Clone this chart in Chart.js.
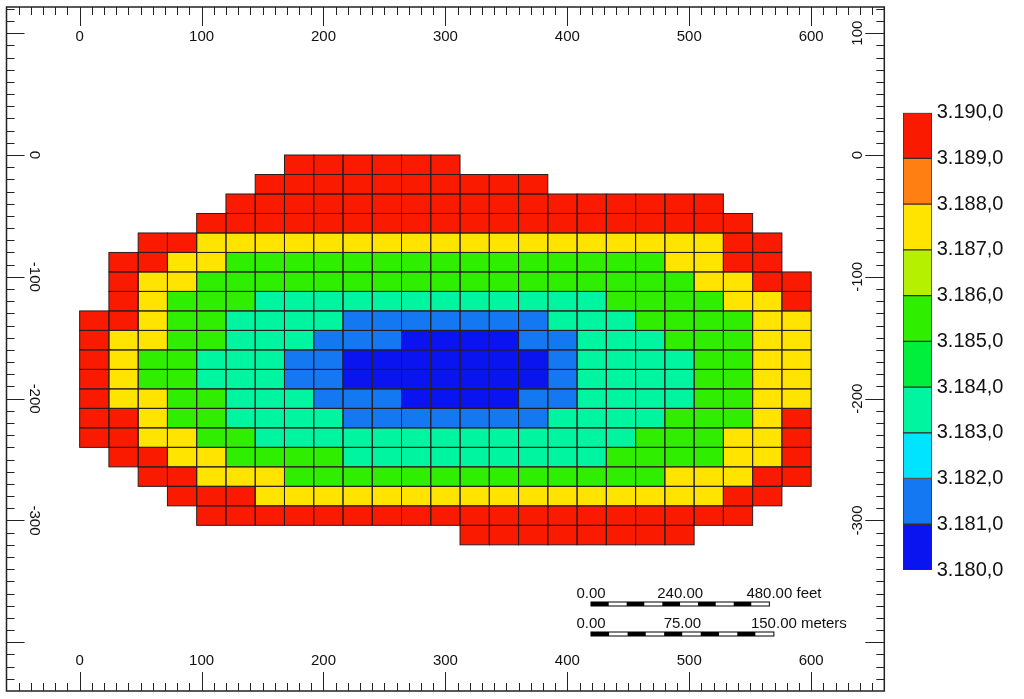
<!DOCTYPE html>
<html>
<head>
<meta charset="utf-8">
<script src="https://cdn.jsdelivr.net/npm/chart.js@4.4.1/dist/chart.umd.min.js"></script>
<style>
    body { margin: 0; background: #fff; }
    #wrap { position: relative; width: 1024px; height: 699px; }
    #mapChart { position: absolute; left: 0; top: 0; }
    #barChart { position: absolute; left: 880px; top: 90px; }
</style>
</head>
<body>
<div id="wrap">
    <canvas id="mapChart" width="1024" height="699"></canvas>
    <canvas id="barChart" width="144" height="510"></canvas>
</div>
<script>
// griglia: 25 colonne x 20 righe, celle da 24 x 16 m, origine in alto a sinistra
const cellWidth = 24;
const cellHeight = 16;
const gridRows = [
    '.......RRRRRR............',
    '......RRRRRRRRRR.........',
    '.....RRRRRRRRRRRRRRRRR...',
    '....RRRRRRRRRRRRRRRRRRR..',
    '..RRYYYYYYYYYYYYYYYYYYRR.',
    '.RRYYGGGGGGGGGGGGGGGYYRR.',
    '.RYYGGGGGGGGGGGGGGGGGYYRR',
    '.RYGGGCCCCCCCCCCCCGGGGYYR',
    'RRYGGCCCCBBBBBBBCCCGGGGYY',
    'RYYGGCCCBBBDDDDBBCCCGGGYY',
    'RYGGCCCBBDDDDDDDBCCCCGGYY',
    'RYGGCCCBBDDDDDDDBCCCCGGYY',
    'RYYGGCCCBBBDDDDBBCCCCGGYY',
    'RRYGGCCCCBBBBBBBCCCCGGGYR',
    'RRYYGGCCCCCCCCCCCCCGGGYYR',
    '.RRYYGGGGCCCCCCCCCGGGGYYR',
    '..RRYYYGGGGGGGGGGGGGYYYRR',
    '...RRRYYYYYYYYYYYYYYYYRR.',
    '....RRRRRRRRRRRRRRRRRRR..',
    '.............RRRRRRRR....'
];
const classValues = { R: 3.1895, Y: 3.1875, G: 3.1855, C: 3.1835, B: 3.1815, D: 3.1805 };

const levels = [3.180, 3.181, 3.182, 3.183, 3.184, 3.185, 3.186, 3.187, 3.188, 3.189, 3.190];
const levelLabels = ['3.180,0', '3.181,0', '3.182,0', '3.183,0', '3.184,0', '3.185,0', '3.186,0', '3.187,0', '3.188,0', '3.189,0', '3.190,0'];
const levelColors = ['#0a14f0', '#1478f2', '#00e4ff', '#00f5a0', '#00ee3c', '#30ee00', '#b4f000', '#ffe400', '#ff7f12', '#fa1a00'];

const xTickLabels = [0, 100, 200, 300, 400, 500, 600];
const yTickLabelsLeft = [0, -100, -200, -300];
const yTickLabelsRight = [100, 0, -100, -200, -300];

const feetLabels = ['0.00', '240.00', '480.00'];
const feetLength = 480;
const meterLabels = ['0.00', '75.00', '150.00'];
const meterLength = 150;

const font = '"Liberation Sans", Arial, sans-serif';

function colorFor(v) {
    for (let i = 0; i < levelColors.length; i++) {
        if (v >= levels[i] && v < levels[i + 1]) return levelColors[i];
    }
    return null;
}

function drawScaleBar(ctx, xs, x0, yBar, yText, lengthM, labels, unit, segments) {
    const xEnd = x0 + (xs.getPixelForValue(lengthM) - xs.getPixelForValue(0));
    const seg = (xEnd - x0) / segments;
    for (let i = 0; i < segments; i++) {
        ctx.fillStyle = i % 2 === 0 ? '#000' : '#fff';
        ctx.fillRect(x0 + i * seg, yBar, seg, 4);
    }
    ctx.strokeStyle = '#000';
    ctx.lineWidth = 1;
    ctx.strokeRect(x0, yBar, xEnd - x0, 4);

    ctx.fillStyle = '#111';
    ctx.font = '15px ' + font;
    ctx.textBaseline = 'alphabetic';
    ctx.textAlign = 'center';
    ctx.fillText(labels[0], x0, yText);
    ctx.fillText(labels[1], (x0 + xEnd) / 2, yText);
    ctx.fillText(labels[2], xEnd, yText);
    const w = ctx.measureText(labels[2]).width;
    ctx.textAlign = 'left';
    ctx.fillText(' ' + unit, xEnd + w / 2, yText);
}

const mapPlugin = {
    id: 'mapPlugin',
    afterDraw(chart) {
        const ctx = chart.ctx;
        const xs = chart.scales.x;
        const ys = chart.scales.y;
        const area = chart.chartArea;
        ctx.save();

        // celle
        gridRows.forEach((row, r) => {
            for (let c = 0; c < row.length; c++) {
                const code = row[c];
                if (code === '.') continue;
                const x1 = xs.getPixelForValue(c * cellWidth);
                const x2 = xs.getPixelForValue((c + 1) * cellWidth);
                const y1 = ys.getPixelForValue(-r * cellHeight);
                const y2 = ys.getPixelForValue(-(r + 1) * cellHeight);
                ctx.fillStyle = colorFor(classValues[code]);
                ctx.fillRect(x1, y1, x2 - x1, y2 - y1);
            }
        });
        ctx.strokeStyle = '#2a1e1e';
        ctx.lineWidth = 1;
        gridRows.forEach((row, r) => {
            for (let c = 0; c < row.length; c++) {
                if (row[c] === '.') continue;
                const x1 = xs.getPixelForValue(c * cellWidth);
                const x2 = xs.getPixelForValue((c + 1) * cellWidth);
                const y1 = ys.getPixelForValue(-r * cellHeight);
                const y2 = ys.getPixelForValue(-(r + 1) * cellHeight);
                ctx.strokeRect(x1, y1, x2 - x1, y2 - y1);
            }
        });

        // cornice e tacche
        ctx.strokeStyle = '#222';
        ctx.lineWidth = 1;
        ctx.beginPath();
        for (let v = Math.ceil(xs.min / 10) * 10; v <= xs.max; v += 10) {
            const px = Math.round(xs.getPixelForValue(v)) + 0.5;
            if (px <= area.left + 1 || px >= area.right - 1) continue;
            const major = v % 100 === 0 && v >= 0 && v <= 600;
            const len = major ? 19 : 8;
            ctx.moveTo(px, area.top);
            ctx.lineTo(px, area.top + len);
            ctx.moveTo(px, area.bottom);
            ctx.lineTo(px, area.bottom - len);
        }
        for (let v = Math.ceil(ys.min / 10) * 10; v <= ys.max; v += 10) {
            const py = Math.round(ys.getPixelForValue(v)) + 0.5;
            if (py <= area.top + 1 || py >= area.bottom - 1) continue;
            const major = v % 100 === 0;
            ctx.moveTo(area.left, py);
            ctx.lineTo(area.left + (major ? 18 : 8), py);
            ctx.moveTo(area.right, py);
            ctx.lineTo(area.right - (major ? 19 : 8), py);
        }
        ctx.stroke();
        ctx.lineWidth = 1.5;
        ctx.strokeRect(area.left, area.top, area.right - area.left, area.bottom - area.top);

        ctx.fillStyle = '#111';
        ctx.font = '15px ' + font;
        ctx.textAlign = 'center';
        ctx.textBaseline = 'middle';
        xTickLabels.forEach(v => {
            const px = xs.getPixelForValue(v);
            ctx.fillText(String(v), px, area.top + 30);
            ctx.fillText(String(v), px, area.bottom - 30);
        });
        yTickLabelsLeft.forEach(v => {
            ctx.save();
            ctx.translate(area.left + 28, ys.getPixelForValue(v));
            ctx.rotate(Math.PI / 2);
            ctx.fillText(String(v), 0, 0);
            ctx.restore();
        });
        yTickLabelsRight.forEach(v => {
            ctx.save();
            ctx.translate(area.right - 26, ys.getPixelForValue(v));
            ctx.rotate(-Math.PI / 2);
            ctx.fillText(String(v), 0, 0);
            ctx.restore();
        });

        // barra di scala
        drawScaleBar(ctx, xs, 591, 602, 598, feetLength * 0.3048, feetLabels, 'feet', 10);
        drawScaleBar(ctx, xs, 591, 632, 628, meterLength, meterLabels, 'meters', 10);

        ctx.restore();
    }
};

new Chart(document.getElementById('mapChart'), {
    type: 'scatter',
    data: { datasets: [] },
    options: {
        responsive: false,
        animation: false,
        layout: { padding: { left: 6.5, top: 7, right: 139.7, bottom: 8 } },
        scales: {
            x: { type: 'linear', min: -60, max: 660, display: false },
            y: { type: 'linear', min: -440, max: 121.5, display: false }
        },
        plugins: { legend: { display: false }, tooltip: { enabled: false } }
    },
    plugins: [mapPlugin]
});

const barLabelsPlugin = {
    id: 'barLabels',
    afterDraw(chart) {
        const ctx = chart.ctx;
        const ys = chart.scales.y;
        const x = chart.chartArea.right + 4.7;
        ctx.save();
        ctx.fillStyle = '#111';
        ctx.font = '20px ' + font;
        ctx.textAlign = 'left';
        ctx.textBaseline = 'middle';
        levels.forEach((v, i) => {
            ctx.fillText(levelLabels[i], x, ys.getPixelForValue(v));
        });
        ctx.restore();
    }
};

new Chart(document.getElementById('barChart'), {
    type: 'bar',
    data: {
        labels: [''],
        datasets: levelColors.map((c, i) => ({
            data: [[levels[i], levels[i + 1]]],
            backgroundColor: c,
            borderColor: '#3a2a2a',
            borderWidth: 1,
            borderSkipped: false,
            barPercentage: 1,
            categoryPercentage: 1,
            grouped: false
        }))
    },
    options: {
        responsive: false,
        animation: false,
        layout: { padding: { left: 23, top: 22.7, right: 92, bottom: 30 } },
        scales: {
            x: { display: false },
            y: { display: false, min: 3.180, max: 3.190 }
        },
        plugins: { legend: { display: false }, tooltip: { enabled: false } }
    },
    plugins: [barLabelsPlugin]
});
</script>
</body>
</html>
